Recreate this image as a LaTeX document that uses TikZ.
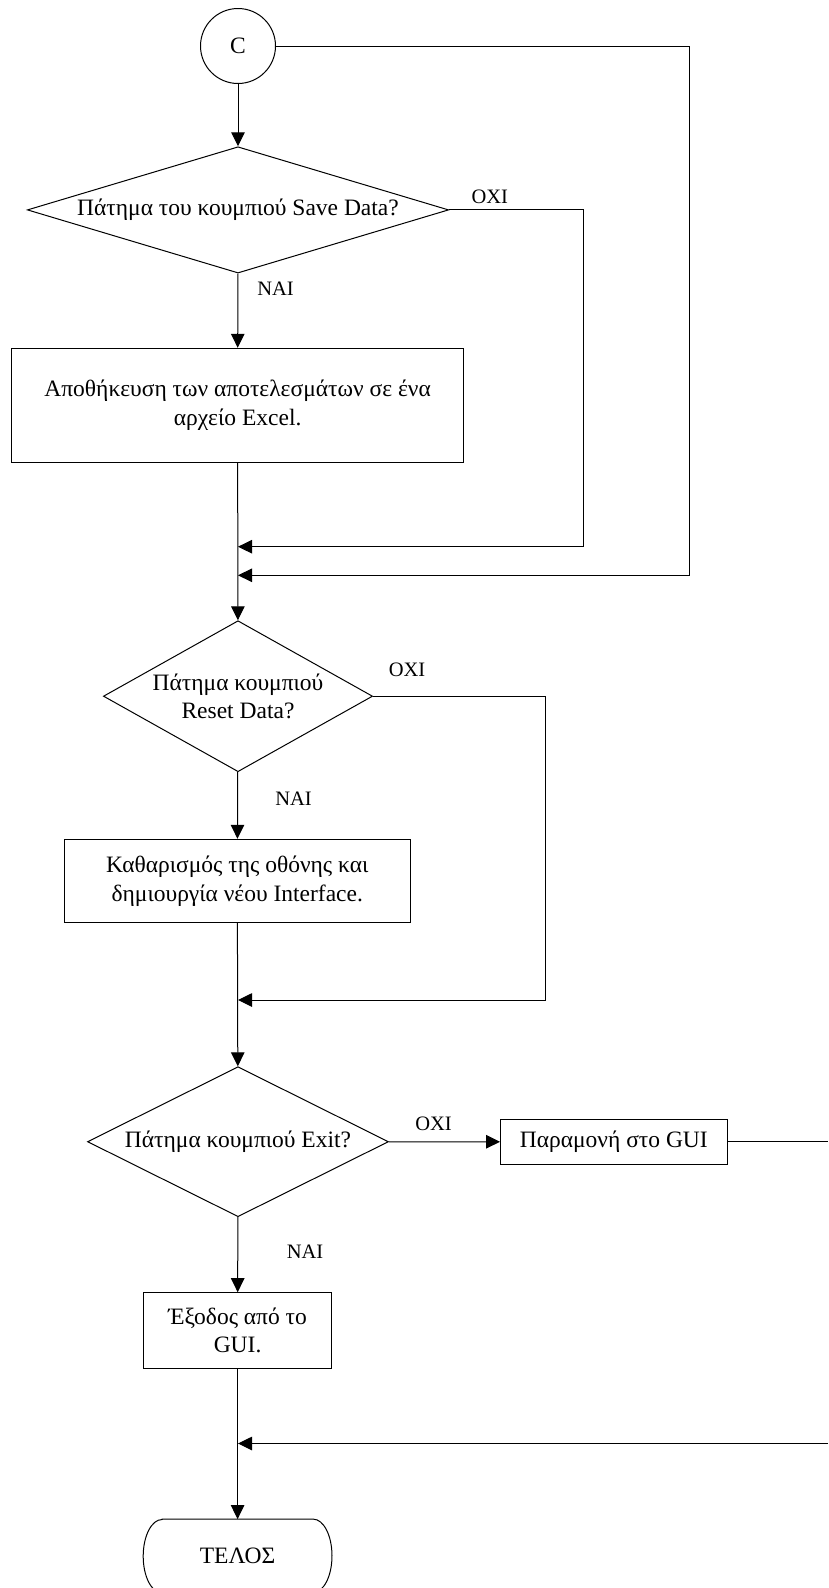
\documentclass[tikz,border=0pt]{standalone}
\usepackage{fontspec}
\setmainfont{Liberation Serif}
\usetikzlibrary{arrows.meta,shapes.geometric}
\tikzset{
  conn/.style={line width=1pt},
  arr/.style={conn, -{Triangle[length=14pt,width=13.5pt]}},
  txt/.style={font=\fontsize{23.5}{28.5}\selectfont},
  lbl/.style={font=\fontsize{20.5}{24}\selectfont, inner sep=0pt},
  procbox/.style={draw, line width=1pt, txt, align=center, inner sep=0pt},
  decision/.style={draw, diamond, line width=1pt, txt, align=center, inner sep=0pt},
  connector/.style={draw, circle, line width=1pt, txt, inner sep=0pt, minimum size=75pt},
}
\begin{document}
\begin{tikzpicture}[x=1pt,y=-1pt]
\useasboundingbox (0,0) rectangle (828,1588);

% nodes
\node[connector] (C) at (238,46) {C};
\node[decision, shape aspect=3.336, minimum width=421.3pt, minimum height=126.3pt] (d1) at (238,209.9) {Πάτημα του κουμπιού Save Data?};
\node[procbox, minimum width=452pt, minimum height=114pt] (b1) at (237.6,405.3) {Αποθήκευση των αποτελεσμάτων σε ένα\\αρχείο Excel.};
\node[decision, shape aspect=1.78, minimum width=269.2pt, minimum height=151pt] (d2) at (238,696.2) {Πάτημα κουμπιού\\Reset Data?};
\node[procbox, minimum width=345.8pt, minimum height=83.4pt] (b2) at (237.3,881) {Καθαρισμός της οθόνης και\\δημιουργία νέου Interface.};
\node[decision, shape aspect=2.0, minimum width=301pt, minimum height=150pt] (d3) at (238,1141.7) {Πάτημα κουμπιού Exit?};
\node[procbox, minimum width=226.5pt, minimum height=45pt] (b3) at (613.8,1141.8) {Παραμονή στο GUI};
\node[procbox, minimum width=188pt, minimum height=75.6pt] (b4) at (237.6,1330.5) {Έξοδος από το\\GUI.};
\node[txt, inner sep=0pt, minimum width=188.4pt, minimum height=73.4pt] (end) at (237.6,1556) {ΤΕΛΟΣ};
\draw[conn] ([xshift=18.8pt]end.north west) -- ([xshift=-18.8pt]end.north east)
  arc[start angle=90,end angle=-90,x radius=18.8pt,y radius=36.7pt]
  -- ([xshift=18.8pt]end.south west)
  arc[start angle=270,end angle=90,x radius=18.8pt,y radius=36.7pt] -- cycle;

% labels
\node[lbl] (o1) at (489.8,196.7) {ΟΧΙ};
\node[lbl] (n1) at (275.5,288.3) {ΝΑΙ};
\node[lbl] (o2) at (407,669.7) {ΟΧΙ};
\node[lbl] (n2) at (293.6,798.3) {ΝΑΙ};
\node[lbl] (o3) at (433.5,1123.3) {ΟΧΙ};
\node[lbl] (n3) at (305,1251.7) {ΝΑΙ};

% junction coordinates
\coordinate (j1) at (238,546.7);
\coordinate (r1) at (583,546.7);
\coordinate (j2) at (238,575.3);
\coordinate (r2) at (689,575.3);
\coordinate (j3) at (238,1000);
\coordinate (r3) at (545,1000);
\coordinate (e1) at (828,1141.8);
\coordinate (e2) at (828,1443.5);
\coordinate (j4) at (238,1443.5);

% connectors
\draw[arr] (C) -- (d1);
\draw[arr] (d1) -- (b1);
\draw[arr] (d1.east) -| (r1) -- (j1);
\draw[arr] (C.east) -| (r2) -- (j2);
\draw[arr] (b1) -- (d2);
\draw[arr] (d2) -- (b2);
\draw[arr] (d2.east) -| (r3) -- (j3);
\draw[arr] (b2) -- (d3);
\draw[arr] (d3) -- (b3);
\draw[conn] (b3) -- (e1);
\draw[arr] (e2) -- (j4);
\draw[arr] (d3) -- (b4);
\draw[arr] (b4) -- (end);
\end{tikzpicture}
\end{document}
